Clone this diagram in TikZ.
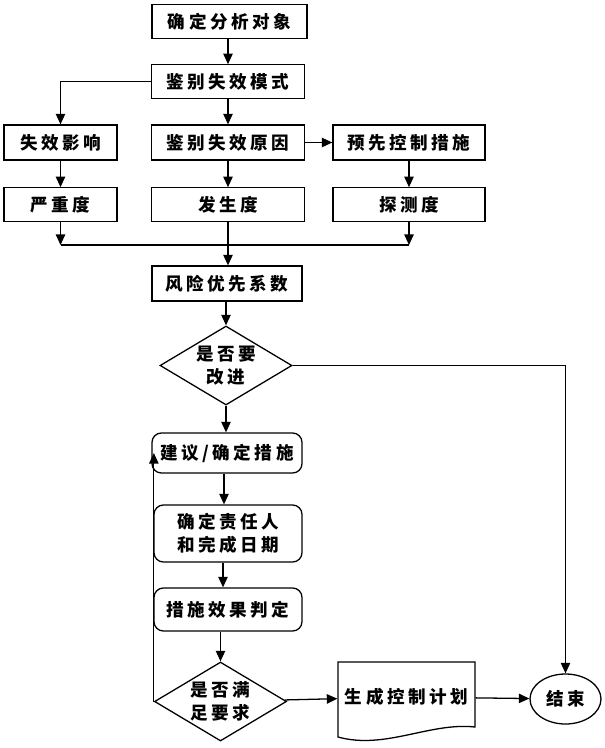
\documentclass[tikz,border=0pt]{standalone}
\usepackage{fontspec}
\newfontfamily\cjk{Noto Sans CJK SC}[LetterSpace=20]
\usepackage{tikz}
\usetikzlibrary{positioning}
\usetikzlibrary{shapes,arrows.meta}

\begin{document}
\begin{tikzpicture}[x=0.03cm,y=-0.03cm,
  every node/.style={draw,line width=1.1pt,inner sep=0pt,align=center,
    font=\cjk\bfseries\fontsize{15pt}{20pt}\selectfont},
  box/.style={rectangle,minimum height=1cm},
  rbox/.style={rectangle,rounded corners=8pt},
  choice/.style={diamond,aspect=1.67,minimum width=3.96cm,minimum height=2.37cm},
  arr/.style={-{Triangle[length=9pt,width=8pt]},line width=1.1pt}]
\useasboundingbox (0,0) rectangle (604,748);
% upper part
\node[box,minimum width=4.65cm] (obj) at (229.5,21.5) {确定分析对象};
\node[box,minimum width=4.59cm] (mode) at (228,81.5) {鉴别失效模式};
\node[box,minimum width=3.39cm,minimum height=1.05cm] (eff) at (60.5,142.5) {失效影响};
\node[box,minimum width=4.59cm,minimum height=1.05cm] (cause) at (228,142.5) {鉴别失效原因};
\node[box,minimum width=4.56cm,minimum height=1.05cm] (ctrl) at (409,142.5) {预先控制措施};
\node[box,minimum width=3.39cm] (sev) at (60.5,204.5) {严重度};
\node[box,minimum width=4.59cm] (occ) at (228,204.5) {发生度};
\node[box,minimum width=4.56cm] (det) at (409,204.5) {探测度};
\node[box,minimum width=4.5cm,minimum height=1.05cm] (rpn) at (227,283.5) {风险优先系数};
\node[choice] (imp) at (226,365.5) {是否要\\改进};
% lower part
\node[rbox,minimum width=4.5cm,minimum height=1.2cm] (act) at (227,453) {建议/确定措施};
\node[rbox,minimum width=4.44cm,minimum height=1.71cm] (resp) at (228,533.5) {确定责任人\\和完成日期};
\node[rbox,minimum width=4.44cm,minimum height=1.29cm] (judge) at (228,609.5) {措施效果判定};
\node[choice] (ok) at (220.5,701.5) {是否满\\足要求};
\node[draw=none,minimum width=4.11cm,minimum height=2cm] (plan) at (406.5,697) {生成控制计划};
\draw[line width=1.1pt] (338,662) -- (475,662) -- (475,727)
  .. controls (430,722) and (385,750) .. (338,737) -- cycle;
\node[ellipse,minimum width=2.13cm,minimum height=1.5cm] (stop) at (565.5,699) {结束};
% connectors
\coordinate (join) at (228,245);
\draw[arr] (obj.south -| mode.north) -- (mode.north);
\draw[arr] (mode.west) -| (eff.north);
\draw[arr] (mode) -- (cause);
\draw[arr] (cause) -- (ctrl);
\draw[arr] (eff) -- (sev);
\draw[arr] (cause) -- (occ);
\draw[arr] (ctrl) -- (det);
\draw[line width=1.1pt] (sev.south |- join) -- (det.south |- join);
\draw[arr] (sev.south) -- (sev.south |- join);
\draw[arr] (det.south) -- (det.south |- join);
\draw[arr] (occ.south) -- (occ.south |- rpn.north);
\draw[arr] (rpn.south -| imp.north) -- (imp.north);
\draw[arr] (imp.east) -| (stop.north);
\draw[arr] (imp.south) -- (imp.south |- act.north);
\draw[arr] (act.south -| 224,0) -- (resp.north -| 224,0);
\draw[arr] (resp.south -| 223,0) -- (judge.north -| 223,0);
\draw[arr] (ok.north |- judge.south) -- (ok.north);
\draw[arr] (ok.west) -- (ok.west |- act.west);
\draw[arr] (ok) -- (plan);
\draw[arr] (plan) -- (stop);
\end{tikzpicture}
\end{document}
